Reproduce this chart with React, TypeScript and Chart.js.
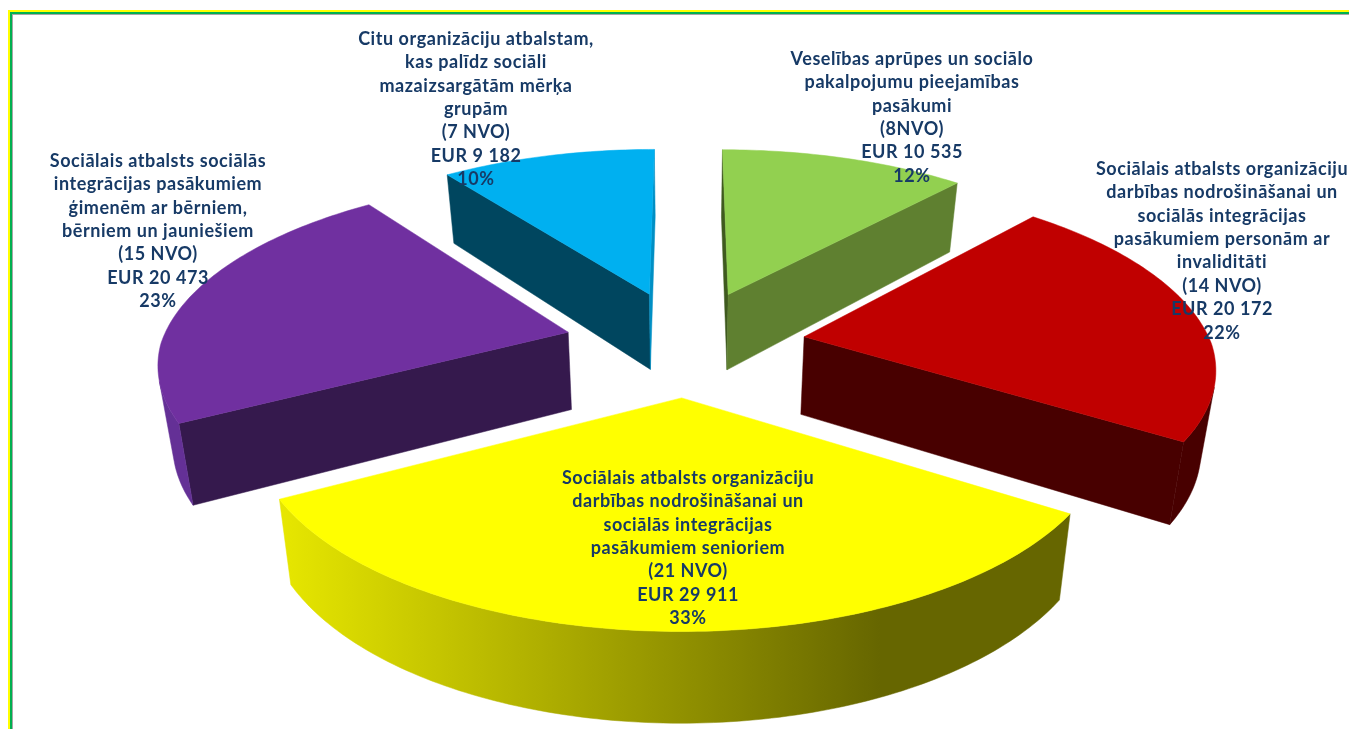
import React, { useEffect, useRef } from "react";
import { Chart, registerables } from "chart.js";

Chart.register(...registerables);

const categories = [
  "Veselības aprūpes un sociālo pakalpojumu pieejamības pasākumi",
  "Sociālais atbalsts organizāciju darbības nodrošināšanai un sociālās integrācijas pasākumiem personām ar invaliditāti",
  "Sociālais atbalsts organizāciju darbības nodrošināšanai un sociālās integrācijas pasākumiem senioriem",
  "Sociālais atbalsts sociālās integrācijas pasākumiem ģimenēm ar bērniem, bērniem un jauniešiem",
  "Citu organizāciju atbalstam, kas palīdz sociāli mazaizsargātām mērķa grupām",
];
const amounts = [10535, 20172, 29911, 20473, 9182];

const labelLines = [
  ["Veselības aprūpes un sociālo", "pakalpojumu pieejamības", "pasākumi", "(8NVO)", "EUR 10 535", "12%"],
  ["Sociālais atbalsts organizāciju", "darbības nodrošināšanai un", "sociālās integrācijas", "pasākumiem personām ar", "invaliditāti", "(14 NVO)", "EUR 20 172", "22%"],
  ["Sociālais atbalsts organizāciju", "darbības nodrošināšanai un", "sociālās integrācijas", "pasākumiem senioriem", "(21 NVO)", "EUR 29 911", "33%"],
  ["Sociālais atbalsts sociālās", "integrācijas pasākumiem", "ģimenēm ar bērniem,", "bērniem un jauniešiem", "(15 NVO)", "EUR 20 473", "23%"],
  ["Citu organizāciju atbalstam,", "kas palīdz sociāli", "mazaizsargātām mērķa", "grupām", "(7 NVO)", "EUR 9 182", "10%"],
];

const topColors = ["#92d050", "#c00000", "#ffff00", "#7030a0", "#00b0f0"];
const faceColors = ["#5f8030", "#480000", "#ffff00", "#35194d", "#00465f"];
const rimColors = ["#5f8030", "#480000", "#ffff00", "#643096", "#008fc4"];
const sliceOffsets = [492, 480, 460, 488, 488];

const labelCenterX = [912, 1222, 688, 158, 476];
const labelFirstY = [59, 169, 478, 161, 39];
const LINE_H = 23.4;
const TEXT_COLOR = "#173a66";
const FONT = 'bold 18px Lato, "Open Sans", sans-serif';
const LETTER_SPACING = "0.55px";

const PERSPECTIVE_FRONT = 2850;
const PERSPECTIVE_BACK = 2500;
const TILT = 0.45;
const DEPTH = 78;

const slice3d = {
  id: "slice3d",
  beforeDraw(chart: any) {
    const { ctx, width, height } = chart;
    ctx.save();
    ctx.fillStyle = "#ffffff";
    ctx.fillRect(0, 0, width, height);
    ctx.fillStyle = "#a6a6a6";
    ctx.fillRect(8, 10, width, 5);
    ctx.fillRect(8, 10, 5, height);
    ctx.fillStyle = "#ffff00";
    ctx.fillRect(8, 10, width, 2);
    ctx.fillRect(8, 10, 2, height);
    ctx.fillStyle = "#00b050";
    ctx.fillRect(10, 12, width, 2);
    ctx.fillRect(10, 12, 2, height);
    ctx.restore();
  },
  beforeDatasetDraw(chart: any) {
    const { ctx } = chart;
    const arcs = chart.getDatasetMeta(0).data;

    const project = (arc: any, u: number, v: number, low: boolean) => {
      const w = 1 - v / (v > 0 ? PERSPECTIVE_FRONT : PERSPECTIVE_BACK);
      let x = arc.x + u / w;
      let y = arc.y + (TILT * v) / w;
      if (low) {
        x = arc.x + (x - arc.x) * 0.972;
        y += DEPTH * Math.pow(1 / w, 0.8);
      }
      return { x, y };
    };
    const area = (pts: any[]) => {
      let s = 0;
      pts.forEach((p, i) => {
        const q = pts[(i + 1) % pts.length];
        s += p.x * q.y - q.x * p.y;
      });
      return s / 2;
    };
    const fillPoly = (pts: any[], fill: any) => {
      ctx.beginPath();
      pts.forEach((p, i) => (i ? ctx.lineTo(p.x, p.y) : ctx.moveTo(p.x, p.y)));
      ctx.closePath();
      ctx.fillStyle = fill;
      ctx.fill();
      ctx.strokeStyle = fill;
      ctx.lineWidth = 0.5;
      ctx.stroke();
    };

    const order = arcs
      .map((arc: any, i: number) => {
        const mid = (arc.startAngle + arc.endAngle) / 2;
        return { arc, i, mid };
      })
      .sort((a: any, b: any) => Math.sin(a.mid) - Math.sin(b.mid));

    order.forEach(({ arc, i, mid }: any) => {
      const off = (arc.options.offset || 0) / 4;
      const ox = Math.cos(mid) * off;
      const oy = Math.sin(mid) * off;
      const R = arc.outerRadius;
      const pt = (a: number, low: boolean) =>
        project(arc, ox + Math.cos(a) * R, oy + Math.sin(a) * R, low);
      const apex = (low: boolean) => project(arc, ox, oy, low);

      const steps = Math.max(8, Math.ceil(((arc.endAngle - arc.startAngle) * 180) / Math.PI));
      const angles: number[] = [];
      for (let k = 0; k <= steps; k++) {
        angles.push(arc.startAngle + ((arc.endAngle - arc.startAngle) * k) / steps);
      }

      // radial faces, only where they turn towards the viewer
      const startFace = [apex(false), pt(arc.startAngle, false), pt(arc.startAngle, true), apex(true)];
      const endFace = [apex(false), pt(arc.endAngle, false), pt(arc.endAngle, true), apex(true)];
      if (area(startFace) < 0) {
        fillPoly(startFace, i === 0 ? "#3f5a1f" : faceColors[i]);
      }
      if (area(endFace) > 0) {
        fillPoly(endFace, i === 4 ? rimColors[i] : faceColors[i]);
      }

      // outer rim, contiguous visible runs
      let run: number[] = [];
      const flush = () => {
        if (run.length > 1) {
          const top = run.map((a) => pt(a, false));
          const bot = run.map((a) => pt(a, true)).reverse();
          let fill: any = rimColors[i];
          if (i === 2) {
            const g = ctx.createLinearGradient(285, 0, 880, 0);
            g.addColorStop(0, "#e6e600");
            g.addColorStop(0.5, "#a6a600");
            g.addColorStop(1, "#666600");
            fill = g;
          }
          fillPoly([...top, ...bot], fill);
        }
        run = [];
      };
      for (let k = 0; k < steps; k++) {
        const a = angles[k];
        const b = angles[k + 1];
        const visible = area([pt(a, false), pt(b, false), pt(b, true), pt(a, true)]) < 0;
        if (visible) {
          if (!run.length) run.push(a);
          run.push(b);
        } else {
          flush();
        }
      }
      flush();

      // top surface
      fillPoly([apex(false), ...angles.map((a) => pt(a, false))], arc.options.backgroundColor);
    });

    // labels
    ctx.save();
    ctx.font = FONT;
    ctx.letterSpacing = LETTER_SPACING;
    ctx.fillStyle = TEXT_COLOR;
    ctx.textAlign = "center";
    ctx.textBaseline = "middle";
    labelLines.forEach((lines, i) => {
      lines.forEach((line, k) => {
        ctx.fillText(line, labelCenterX[i], labelFirstY[i] + k * LINE_H);
      });
    });
    ctx.restore();
    return false;
  },
};

export default function App() {
  const ref = useRef<HTMLCanvasElement>(null);
  useEffect(() => {
    document.body.style.margin = "0";
    const chart = new Chart(ref.current as HTMLCanvasElement, {
      type: "pie",
      data: {
        labels: categories,
        datasets: [
          {
            data: amounts,
            backgroundColor: topColors,
            borderWidth: 0,
            offset: sliceOffsets,
          },
        ],
      },
      options: {
        responsive: false,
        animation: false,
        radius: 407,
        layout: { padding: { left: 23, bottom: 41 } },
        plugins: { legend: { display: false }, tooltip: { enabled: false } },
      },
      plugins: [slice3d],
    } as any);
    return () => chart.destroy();
  }, []);
  return <canvas ref={ref} width={1349} height={729} style={{ display: "block" }} />;
}
